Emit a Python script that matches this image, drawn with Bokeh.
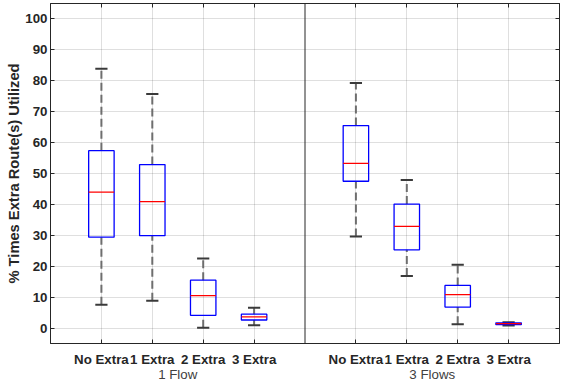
from bokeh.plotting import figure
from bokeh.models import (ColumnDataSource, FixedTicker, LinearAxis, Range1d, Span)
from bokeh.embed import file_html
from bokeh.resources import INLINE

# ---- data ----
categories = ["No Extra", "1 Extra", "2 Extra", "3 Extra"]
groups = ["1 Flow", "3 Flows"]
positions = [1, 2, 3, 4, 6, 7, 8, 9]
group_centers = [2.5, 7.5]
whisker_low = [7.5, 8.8, 0.1, 0.9, 29.6, 16.8, 1.2, 0.8]
q1 = [29.4, 29.9, 4.1, 2.6, 47.5, 25.3, 6.8, 1.1]
median = [44.0, 40.9, 10.5, 3.6, 53.3, 32.9, 10.8, 1.4]
q3 = [57.4, 52.9, 15.5, 4.5, 65.5, 40.1, 13.8, 1.7]
whisker_high = [83.9, 75.7, 22.5, 6.6, 79.3, 47.9, 20.5, 1.9]
y_ticks = list(range(0, 101, 10))

FONT = "Liberation Sans"
AX = "#262626"
TICK_FS = "13.3px"
box_w = 0.5
cap_w = 0.24

src = ColumnDataSource(dict(
    x=positions, lo=whisker_low, q1=q1, med=median, q3=q3, hi=whisker_high,
    xl=[x - box_w / 2 for x in positions], xr=[x + box_w / 2 for x in positions],
    cl=[x - cap_w / 2 for x in positions], cr=[x + cap_w / 2 for x in positions],
))

p = figure(width=564, height=384, output_backend="svg", toolbar_location=None,
           x_range=Range1d(0, 10), y_range=Range1d(-5, 105),
           min_border_left=50, min_border_right=5, min_border_top=3,
           min_border_bottom=39)
p.background_fill_color = "white"
p.border_fill_color = "white"
p.outline_line_color = AX

# grid
p.xgrid.ticker = FixedTicker(ticks=positions)
p.ygrid.ticker = FixedTicker(ticks=y_ticks)
for g in (p.xgrid, p.ygrid):
    g.grid_line_color = AX
    g.grid_line_alpha = 0.15

# x axis (categories)
xa = p.xaxis[0]
xa.ticker = FixedTicker(ticks=positions)
xa.major_label_overrides = {pos: categories[i % 4] for i, pos in enumerate(positions)}
xa.major_label_text_font = FONT
xa.major_label_text_font_style = "bold"
xa.major_label_text_font_size = TICK_FS
xa.major_label_text_color = AX
xa.major_tick_in = 4
xa.major_tick_out = 0
xa.minor_tick_line_color = None
xa.axis_line_color = AX
xa.major_tick_line_color = AX
xa.major_label_standoff = 8

# group axis
ga = LinearAxis(ticker=FixedTicker(ticks=group_centers),
                major_label_overrides={c: groups[i] for i, c in enumerate(group_centers)})
ga.axis_line_color = None
ga.major_tick_line_color = None
ga.minor_tick_line_color = None
ga.major_label_text_font = FONT
ga.major_label_text_font_size = TICK_FS
ga.major_label_text_color = "#404040"
ga.major_label_standoff = -3
ga.major_tick_in = 0
ga.major_tick_out = 0
p.add_layout(ga, "below")

# y axis
ya = p.yaxis[0]
ya.ticker = FixedTicker(ticks=y_ticks)
ya.axis_label = "% Times Extra Route(s) Utilized"
ya.axis_label_text_font = FONT
ya.axis_label_text_font_style = "bold"
ya.axis_label_text_font_size = "14.7px"
ya.axis_label_text_color = AX
ya.axis_label_standoff = 0
ya.major_label_text_font = FONT
ya.major_label_text_font_style = "bold"
ya.major_label_text_font_size = TICK_FS
ya.major_label_text_color = AX
ya.major_label_standoff = 3
ya.major_tick_in = 4
ya.major_tick_out = 0
ya.minor_tick_line_color = None
ya.axis_line_color = AX
ya.major_tick_line_color = AX

# top & right axes (tick marks only, no labels drawn)
ta = LinearAxis(ticker=FixedTicker(ticks=positions))
ra = LinearAxis(ticker=FixedTicker(ticks=y_ticks))
for a in (ta, ra):
    a.major_label_text_font_size = "0px"
    a.major_label_text_color = None
    a.major_label_standoff = 0
    a.major_tick_in = 4
    a.major_tick_out = 0
    a.minor_tick_line_color = None
    a.axis_line_color = AX
    a.major_tick_line_color = AX
p.add_layout(ta, "above")
p.add_layout(ra, "right")

# group separator
p.add_layout(Span(location=5, dimension="height", line_color=AX, line_width=1))

# whiskers
wcol = "#6e6e6e"
p.segment(x0="x", y0="q3", x1="x", y1="hi", source=src, line_color=wcol,
          line_width=2, line_dash="8 4")
p.segment(x0="x", y0="lo", x1="x", y1="q1", source=src, line_color=wcol,
          line_width=2, line_dash="8 4")
# caps
p.segment(x0="cl", y0="hi", x1="cr", y1="hi", source=src, line_color="#3a3a3a", line_width=2)
p.segment(x0="cl", y0="lo", x1="cr", y1="lo", source=src, line_color="#3a3a3a", line_width=2)
# boxes
p.quad(left="xl", right="xr", bottom="q1", top="q3", source=src,
       fill_color=None, line_color="#0000FF", line_width=1.3)
# medians
p.segment(x0="xl", y0="med", x1="xr", y1="med", source=src, line_color="#FF0000", line_width=1.3)

open("out.html", "w").write(file_html(p, INLINE))
